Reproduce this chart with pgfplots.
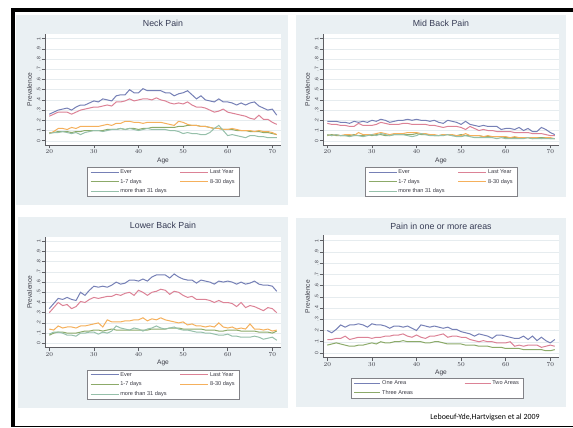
\documentclass[border=0pt]{standalone}
\usepackage{fontspec}
\setmainfont{Liberation Sans}
\newfontfamily\citefont{Carlito}
\usepackage{pgfplots}
\usepackage{pgfplotstable}
\pgfplotsset{compat=1.18}

\definecolor{bgc}{RGB}{234,240,243}
\definecolor{everc}{RGB}{118,128,182}
\definecolor{lastc}{RGB}{220,130,150}
\definecolor{d17c}{RGB}{140,170,105}
\definecolor{d830c}{RGB}{245,176,92}
\definecolor{d31c}{RGB}{150,192,170}
\definecolor{axisc}{RGB}{95,95,100}
\definecolor{gridc}{RGB}{230,236,239}
\definecolor{txtc}{RGB}{60,60,70}
\definecolor{titlec}{RGB}{55,60,85}
\definecolor{legc}{RGB}{130,130,135}

% age  ever  last  d17  d830  d31
\pgfplotstableread{
age ever last d17 d830 d31
20 .26 .24 .08 .07 .07
21 .28 .26 .08 .09 .08
22 .30 .28 .09 .12 .08
23 .31 .28 .09 .12 .09
24 .32 .28 .09 .11 .08
25 .30 .26 .08 .13 .07
26 .33 .28 .09 .12 .08
27 .35 .30 .09 .14 .06
28 .35 .31 .10 .14 .08
29 .37 .32 .10 .14 .09
30 .39 .33 .10 .14 .10
31 .38 .33 .10 .14 .10
32 .41 .34 .10 .15 .09
33 .40 .35 .11 .16 .10
34 .39 .34 .11 .15 .11
35 .44 .38 .11 .17 .11
36 .45 .38 .12 .17 .12
37 .45 .39 .11 .19 .11
38 .50 .41 .12 .19 .12
39 .47 .39 .12 .18 .11
40 .47 .40 .11 .18 .10
41 .51 .41 .12 .17 .11
42 .49 .41 .12 .18 .12
43 .49 .40 .13 .18 .11
44 .49 .42 .13 .18 .11
45 .49 .40 .13 .18 .11
46 .47 .39 .13 .17 .11
47 .47 .37 .13 .16 .10
48 .44 .36 .13 .15 .10
49 .46 .37 .14 .19 .09
50 .47 .36 .14 .18 .07
51 .49 .38 .15 .16 .08
52 .45 .35 .15 .15 .07
53 .41 .33 .15 .15 .07
54 .44 .33 .14 .14 .06
55 .40 .32 .14 .14 .06
56 .39 .30 .13 .13 .08
57 .38 .28 .12 .12 .12
58 .41 .29 .12 .12 .15
59 .38 .31 .11 .11 .10
60 .38 .28 .11 .11 .05
61 .37 .27 .11 .12 .06
62 .35 .26 .10 .11 .05
63 .37 .25 .10 .10 .04
64 .35 .24 .10 .10 .03
65 .37 .22 .09 .10 .05
66 .38 .21 .09 .09 .05
67 .34 .25 .09 .10 .04
68 .32 .21 .08 .09 .04
69 .30 .21 .08 .09 .03
70 .31 .18 .07 .08 .03
71 .25 .16 .06 .06 .03
}\neck

\pgfplotstableread{
age ever last d17 d830 d31
20 .19 .17 .05 .06 .06
21 .19 .16 .06 .05 .05
22 .19 .16 .05 .06 .06
23 .18 .15 .05 .05 .05
24 .18 .15 .05 .06 .05
25 .17 .14 .05 .06 .04
26 .19 .14 .06 .05 .05
27 .18 .17 .05 .08 .05
28 .19 .15 .05 .06 .04
29 .18 .15 .06 .06 .05
30 .20 .15 .05 .06 .06
31 .19 .16 .06 .07 .05
32 .21 .18 .06 .08 .07
33 .20 .17 .05 .07 .06
34 .18 .16 .05 .06 .05
35 .19 .16 .06 .07 .06
36 .20 .16 .06 .07 .06
37 .20 .17 .06 .07 .06
38 .21 .17 .06 .08 .05
39 .20 .16 .06 .08 .04
40 .21 .16 .07 .08 .05
41 .20 .16 .06 .07 .07
42 .20 .16 .06 .07 .06
43 .19 .15 .06 .06 .05
44 .20 .15 .05 .06 .05
45 .18 .14 .05 .05 .05
46 .17 .13 .06 .06 .05
47 .20 .14 .06 .06 .06
48 .19 .14 .05 .06 .05
49 .18 .14 .05 .05 .04
50 .16 .13 .06 .05 .04
51 .19 .11 .05 .07 .05
52 .16 .14 .05 .05 .04
53 .15 .12 .05 .05 .03
54 .14 .10 .05 .05 .03
55 .15 .11 .04 .04 .03
56 .14 .10 .04 .05 .03
57 .14 .10 .04 .04 .03
58 .14 .09 .04 .04 .02
59 .11 .09 .04 .04 .03
60 .12 .09 .03 .04 .02
61 .12 .09 .03 .03 .02
62 .11 .08 .03 .04 .02
63 .13 .08 .03 .03 .02
64 .10 .08 .03 .03 .02
65 .12 .08 .03 .03 .03
66 .09 .07 .02 .03 .02
67 .09 .07 .03 .03 .02
68 .13 .07 .03 .02 .02
69 .11 .06 .03 .03 .02
70 .08 .05 .02 .03 .02
71 .06 .05 .02 .02 .02
}\midback

\pgfplotstableread{
age ever last d17 d830 d31
20 .34 .30 .08 .14 .09
21 .39 .35 .10 .13 .11
22 .44 .40 .11 .17 .11
23 .43 .37 .11 .15 .10
24 .45 .38 .10 .16 .08
25 .43 .34 .10 .16 .08
26 .42 .36 .10 .15 .07
27 .50 .41 .11 .17 .10
28 .47 .40 .12 .17 .10
29 .52 .43 .12 .18 .11
30 .56 .45 .13 .19 .11
31 .55 .44 .13 .20 .09
32 .56 .45 .12 .16 .11
33 .55 .46 .13 .23 .10
34 .57 .46 .14 .21 .12
35 .60 .48 .13 .21 .17
36 .58 .47 .13 .21 .15
37 .59 .49 .13 .22 .14
38 .62 .50 .13 .22 .13
39 .62 .47 .13 .23 .15
40 .61 .52 .13 .23 .14
41 .63 .50 .13 .25 .12
42 .61 .47 .13 .22 .14
43 .65 .50 .14 .24 .15
44 .67 .51 .14 .23 .17
45 .67 .53 .14 .25 .15
46 .67 .52 .14 .23 .14
47 .64 .48 .15 .22 .15
48 .68 .51 .15 .21 .16
49 .65 .50 .15 .20 .14
50 .63 .47 .14 .21 .13
51 .62 .45 .14 .18 .13
52 .62 .46 .14 .19 .12
53 .59 .43 .14 .17 .11
54 .62 .43 .14 .17 .11
55 .61 .43 .13 .16 .10
56 .60 .42 .13 .17 .10
57 .58 .40 .13 .16 .09
58 .61 .42 .12 .20 .08
59 .60 .40 .12 .16 .08
60 .61 .40 .13 .15 .09
61 .60 .39 .13 .16 .07
62 .58 .36 .13 .14 .07
63 .60 .40 .12 .15 .06
64 .58 .35 .12 .14 .06
65 .59 .37 .12 .19 .06
66 .61 .36 .12 .14 .07
67 .58 .34 .11 .14 .06
68 .57 .32 .11 .13 .04
69 .57 .35 .11 .14 .05
70 .56 .34 .10 .12 .06
71 .51 .30 .12 .13 .03
}\lowback

\pgfplotstableread{
age one two three
20 .20 .12 .07
21 .18 .12 .08
22 .21 .13 .09
23 .25 .13 .08
24 .23 .15 .07
25 .25 .12 .06
26 .25 .13 .06
27 .26 .14 .07
28 .25 .14 .07
29 .23 .14 .08
30 .26 .13 .09
31 .25 .14 .08
32 .25 .14 .10
33 .24 .15 .09
34 .22 .15 .09
35 .24 .16 .10
36 .24 .16 .10
37 .23 .17 .11
38 .24 .15 .10
39 .22 .14 .10
40 .20 .16 .10
41 .25 .14 .10
42 .24 .13 .09
43 .23 .15 .09
44 .24 .15 .10
45 .23 .16 .10
46 .22 .17 .09
47 .23 .14 .08
48 .21 .15 .08
49 .21 .15 .08
50 .19 .14 .08
51 .18 .14 .07
52 .17 .12 .07
53 .15 .11 .07
54 .17 .10 .06
55 .16 .11 .06
56 .15 .10 .06
57 .13 .10 .05
58 .16 .09 .05
59 .16 .09 .05
60 .15 .09 .04
61 .14 .10 .04
62 .13 .06 .04
63 .13 .07 .04
64 .15 .06 .03
65 .12 .07 .03
66 .15 .07 .03
67 .11 .07 .03
68 .14 .05 .03
69 .11 .06 .02
70 .09 .07 .02
71 .12 .06 .03
}\areas

\pgfplotsset{
  panel/.style={
    scale only axis, width=236pt, height=111pt,
    xmin=19.04, xmax=71.95, ymin=-0.042, ymax=1.046,
    axis x line*=bottom, axis y line*=left,
    axis line style={draw=axisc, line width=0.5pt, -},
    tick align=outside, major tick length=3.5pt,
    every tick/.style={draw=axisc, line width=0.5pt},
    xtick={20,30,40,50,60,70},
    ytick={0,0.1,0.2,0.3,0.4,0.5,0.6,0.7,0.8,0.9,1},
    yticklabels={0,.1,.2,.3,.4,.5,.6,.7,.8,.9,1},
    ymajorgrids, grid style={draw=gridc, line width=0.4pt},
    axis background/.style={fill=white},
    xticklabel style={font=\fontsize{6.5}{7}\selectfont, text=txtc, inner sep=1pt},
    yticklabel style={font=\fontsize{5}{6}\selectfont, text=txtc, rotate=90, anchor=south, inner sep=1pt},
    xlabel={Age}, ylabel={Prevalence},
    xlabel style={at={(axis description cs:0.5,0)}, anchor=center, yshift=-15.5pt,
      font=\fontsize{6.6}{7}\selectfont, text=txtc},
    ylabel style={at={(axis description cs:-0.066,0.5)}, anchor=center,
      font=\fontsize{6.6}{7}\selectfont, text=txtc},
    title style={at={(axis description cs:0.5,1)}, anchor=center, yshift=5pt,
      font=\fontsize{8.8}{10}\selectfont, text=titlec},
    legend columns=2, legend cell align=left,
    legend image code/.code={\draw[##1,line width=1pt] (0pt,0pt) -- (28pt,0pt);},
    legend style={at={(axis description cs:0.5,0)}, anchor=north, yshift=-22pt,
      draw=legc, line width=0.4pt, fill=white, text=txtc,
      font=\fontsize{5.6}{6}\selectfont, inner xsep=3pt, inner ysep=1.2pt,
      nodes={inner sep=1.2pt, text height=4.2pt, text depth=1.3pt},
      row sep=1.7pt,
      /tikz/column 2/.style={column sep=12pt}},
    every axis plot/.append style={line width=1pt},
  },
}

\begin{document}
\begin{tikzpicture}
\useasboundingbox (0pt,0pt) rectangle (573pt,428pt);
% page frame
\fill[black] (11pt,0.5pt) rectangle (15pt,420pt);
\fill[black] (11pt,416pt) rectangle (573pt,420pt);
\fill[black] (11pt,0.5pt) rectangle (573pt,2pt);
% panel backgrounds
\fill[bgc] (16pt,223pt) rectangle (288pt,413pt);
\fill[bgc] (296pt,231pt) rectangle (566pt,413pt);
\fill[bgc] (18pt,20pt) rectangle (288pt,211pt);
\fill[bgc] (296pt,21pt) rectangle (566pt,210pt);

% Neck pain
\begin{axis}[panel, at={(45pt,283pt)}, anchor=south west, title={Neck Pain}]
\addplot[everc] table[x=age,y=ever]{\neck};
\addplot[lastc] table[x=age,y=last]{\neck};
\addplot[d17c] table[x=age,y=d17]{\neck};
\addplot[d830c] table[x=age,y=d830]{\neck};
\addplot[d31c] table[x=age,y=d31]{\neck};
\legend{Ever,Last Year,1-7 days,8-30 days,more than 31 days}
\end{axis}

% Mid back pain
\begin{axis}[panel, at={(323pt,283pt)}, anchor=south west, title={Mid Back Pain}]
\addplot[everc] table[x=age,y=ever]{\midback};
\addplot[lastc] table[x=age,y=last]{\midback};
\addplot[d17c] table[x=age,y=d17]{\midback};
\addplot[d830c] table[x=age,y=d830]{\midback};
\addplot[d31c] table[x=age,y=d31]{\midback};
\legend{Ever,Last Year,1-7 days,8-30 days,more than 31 days}
\end{axis}

% Lower back pain
\begin{axis}[panel, at={(45pt,80.4pt)}, anchor=south west, title={Lower Back Pain}]
\addplot[everc] table[x=age,y=ever]{\lowback};
\addplot[lastc] table[x=age,y=last]{\lowback};
\addplot[d17c] table[x=age,y=d17]{\lowback};
\addplot[d830c] table[x=age,y=d830]{\lowback};
\addplot[d31c] table[x=age,y=d31]{\lowback};
\legend{Ever,Last Year,1-7 days,8-30 days,more than 31 days}
\end{axis}

% Number of painful areas
\begin{axis}[panel, at={(323pt,70.3pt)}, anchor=south west, height=122.2pt,
  title={Pain in one or more areas}, title style={yshift=-1.5pt},
  legend style={xshift=-4pt, yshift=1.7pt, /tikz/column 2/.style={column sep=50pt}},
  legend image code/.code={\draw[#1,line width=1pt] (0pt,0pt) -- (26pt,0pt);}]
\addplot[everc] table[x=age,y=one]{\areas};
\addplot[lastc] table[x=age,y=two]{\areas};
\addplot[d17c] table[x=age,y=three]{\areas};
\legend{One Area,Two Areas,Three Areas}
\end{axis}

\node[font=\citefont\fontsize{7.9}{9}\selectfont, text=black] at (485pt,11pt) {Leboeuf-Yde,Hartvigsen et al 2009};
\end{tikzpicture}
\end{document}
